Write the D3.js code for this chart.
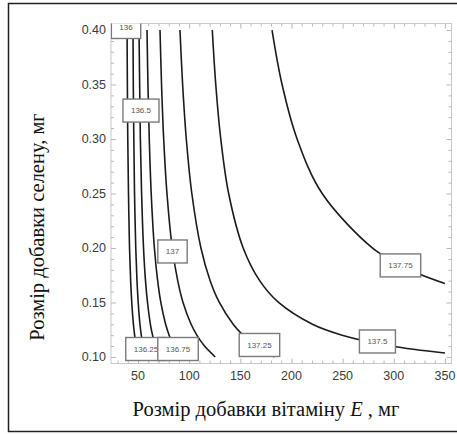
<!DOCTYPE html>
<html>
<head>
<meta charset="utf-8">
<script src="https://cdn.jsdelivr.net/npm/d3@7"></script>
<style>
  body { margin: 0; background: #fff; }
  svg { display: block; }
</style>
</head>
<body>
<div id="chart"></div>
<script>
(function(){
	// contour levels and the label text shown on each line
	var levels = [136, 136.25, 136.5, 136.75, 137, 137.25, 137.5, 137.75];
	var levelLabels = ["136", "136.25", "136.5", "136.75", "137", "137.25", "137.5", "137.75"];

	// points: [vitamin E mg, selenium mg]
	var c136 = [[39.3,0.40],[39.6,0.35],[40.0,0.30],[40.7,0.25],[41.7,0.20],[42.8,0.17],[43.9,0.15],[45.5,0.13],[46.7,0.12],[48.2,0.11],[50.4,0.10]];
	var c13625 = [[45.1,0.40],[45.4,0.35],[45.9,0.30],[46.6,0.25],[47.8,0.20],[49.0,0.17],[50.2,0.15],[51.9,0.13],[53.2,0.12],[54.9,0.11],[57.3,0.10]];
	var c1365 = [[51.0,0.40],[51.6,0.35],[52.3,0.30],[53.5,0.25],[55.4,0.20],[57.3,0.17],[59.3,0.15],[62.1,0.13],[64.2,0.12],[67.0,0.11],[70.8,0.10]];
	var c13675 = [[58.8,0.40],[59.7,0.35],[61.0,0.30],[62.9,0.25],[66.0,0.20],[69.2,0.17],[72.3,0.15],[77.0,0.13],[80.4,0.12],[84.9,0.11],[91.2,0.10]];
	var c137 = [[71.5,0.40],[73.0,0.35],[75.1,0.30],[78.3,0.25],[83.5,0.20],[88.8,0.17],[94.0,0.15],[101.9,0.13],[107.5,0.12],[115.0,0.11],[125.5,0.10]];
	var c13725 = [[91.0,0.40],[93.6,0.35],[97.2,0.30],[102.6,0.25],[111.5,0.20],[120.5,0.17],[129.5,0.15],[143.0,0.13],[152.6,0.12],[165.4,0.11],[183.4,0.10]];
	var c1375 = [[122.6,0.40],[126.0,0.35],[130.9,0.30],[138.6,0.25],[152.8,0.20],[168.9,0.17],[187.4,0.15],[220.5,0.13],[249.5,0.12],[297.5,0.11],[350,0.1036]];
	var c13775 = [[181,0.40],[190.8,0.35],[205.5,0.30],[230,0.25],[279,0.20],[300,0.1875],[325,0.1762],[350,0.1674]];
	var contours = [c136, c13625, c1365, c13675, c137, c13725, c1375, c13775];

	// where each label box sits
	var labelPos = [[38.3,0.4028],[57.8,0.1073],[52.9,0.3261],[89.1,0.1073],[83.7,0.1968],[168.7,0.111],[284,0.1142],[306.5,0.184]];

	var xTicks = [50, 100, 150, 200, 250, 300, 350];
	var yTicks = [0.10, 0.15, 0.20, 0.25, 0.30, 0.35, 0.40];
	var xTitle = "Розмір добавки вітаміну ";
	var yTitle = "Розмір добавки селену, мг";

	var W = 457, H = 434;
	var frame = {left: 111, right: 451.5, top: 23.5, bottom: 363.5};

	var svg = d3.select("#chart")
				.append("svg")
				.attr("width", W)
				.attr("height", H);

	// outer border of the figure
	svg.append("rect")
	   .attr("x", 8.5).attr("y", 3.5)
	   .attr("width", 470).attr("height", 428)
	   .attr("fill", "none")
	   .attr("stroke", "#222")
	   .attr("stroke-width", 1.5);

	var x = d3.scaleLinear().domain([23.6, 356.4]).range([frame.left, frame.right]);
	var y = d3.scaleLinear().domain([0.094, 0.406]).range([frame.bottom, frame.top]);

	svg.append("defs").append("clipPath").attr("id", "plotclip")
	   .append("rect")
	   .attr("x", frame.left).attr("y", frame.top)
	   .attr("width", frame.right-frame.left).attr("height", frame.bottom-frame.top);

	// frame
	svg.append("rect")
	   .attr("x", frame.left).attr("y", frame.top)
	   .attr("width", frame.right-frame.left).attr("height", frame.bottom-frame.top)
	   .attr("fill", "none")
	   .attr("stroke", "#c8c8c8")
	   .attr("stroke-width", 1);

	var xMinor = d3.range(30, 351, 10).filter(function(v){ return v % 50 !== 0; });
	var yMinor = d3.range(10, 41, 1).map(function(v){ return v/100; }).filter(function(v){ return Math.round(v*100) % 5 !== 0; });

	function tickAxis(axis, values, size, transform){
		var g = svg.append("g")
				   .attr("transform", transform)
				   .call(axis(values === xTicks || values === xMinor ? x : y)
						 .tickValues(values)
						 .tickSize(-size)
						 .tickFormat(""));
		g.select(".domain").remove();
		g.selectAll("line").attr("stroke", "#b8b8b8");
		return g;
	}

	tickAxis(d3.axisBottom, xTicks, 5, "translate(0,"+frame.bottom+")");
	tickAxis(d3.axisBottom, xMinor, 3, "translate(0,"+frame.bottom+")");
	tickAxis(d3.axisTop, xTicks, 5, "translate(0,"+frame.top+")");
	tickAxis(d3.axisTop, xMinor, 3, "translate(0,"+frame.top+")");
	tickAxis(d3.axisLeft, yTicks, 5, "translate("+frame.left+",0)");
	tickAxis(d3.axisLeft, yMinor, 3, "translate("+frame.left+",0)");
	tickAxis(d3.axisRight, yTicks, 5, "translate("+frame.right+",0)");
	tickAxis(d3.axisRight, yMinor, 3, "translate("+frame.right+",0)");

	// tick labels
	svg.append("g").selectAll("text")
	   .data(xTicks)
	   .enter().append("text")
	   .attr("x", function(d){ return x(d); })
	   .attr("y", frame.bottom + 16.5)
	   .attr("text-anchor", "middle")
	   .attr("font-family", "Liberation Sans, Arial, sans-serif")
	   .attr("font-size", 12.5)
	   .attr("fill", "#3a3a3a")
	   .text(function(d){ return d; });

	svg.append("g").selectAll("text")
	   .data(yTicks)
	   .enter().append("text")
	   .attr("x", frame.left - 5)
	   .attr("y", function(d){ return y(d); })
	   .attr("dy", "0.35em")
	   .attr("text-anchor", "end")
	   .attr("font-family", "Liberation Sans, Arial, sans-serif")
	   .attr("font-size", 12.5)
	   .attr("fill", "#3a3a3a")
	   .text(function(d){ return d.toFixed(2); });

	// contour lines
	var line = d3.line()
				 .x(function(d){ return x(d[0]); })
				 .y(function(d){ return y(d[1]); })
				 .curve(d3.curveCatmullRom);

	var plot = svg.append("g").attr("clip-path", "url(#plotclip)");

	plot.selectAll(".contour")
		.data(contours)
		.enter().append("path")
		.attr("class", "contour")
		.attr("d", line)
		.attr("fill", "none")
		.attr("stroke", "#1a1a1a")
		.attr("stroke-width", 1.6);

	// labels
	var labels = plot.selectAll(".clabel")
		.data(levels)
		.enter().append("g")
		.attr("class", "clabel")
		.attr("transform", function(d, i){ return "translate("+x(labelPos[i][0])+","+y(labelPos[i][1])+")"; });

	labels.each(function(d, i){
		var g = d3.select(this);
		var rect = g.append("rect");
		var t = g.append("text")
				 .attr("text-anchor", "middle")
				 .attr("dy", "0.35em")
				 .attr("font-family", "Liberation Sans, Arial, sans-serif")
				 .attr("font-size", 8)
				 .attr("fill", "#555")
				 .text(levelLabels[i]);
		var w = t.node().getComputedTextLength() + 16;
		var h = 23;
		rect.attr("x", -w/2).attr("y", -h/2)
			.attr("width", w).attr("height", h)
			.attr("fill", "#fff")
			.attr("stroke", "#7a7a7a")
			.attr("stroke-width", 1.4);
	});

	// axis titles
	var xt = svg.append("text")
	   .attr("x", 266)
	   .attr("y", 416)
	   .attr("text-anchor", "middle")
	   .attr("font-family", "Liberation Serif, Times New Roman, serif")
	   .attr("font-size", 20.5)
	   .attr("fill", "#111");
	xt.append("tspan").text(xTitle);
	xt.append("tspan").attr("font-style", "italic").text("E");
	xt.append("tspan").text(" , мг");

	svg.append("text")
	   .attr("transform", "translate(44,227) rotate(-90)")
	   .attr("text-anchor", "middle")
	   .attr("font-family", "Liberation Serif, Times New Roman, serif")
	   .attr("font-size", 20.5)
	   .attr("fill", "#111")
	   .text(yTitle);
})();
</script>
</body>
</html>
